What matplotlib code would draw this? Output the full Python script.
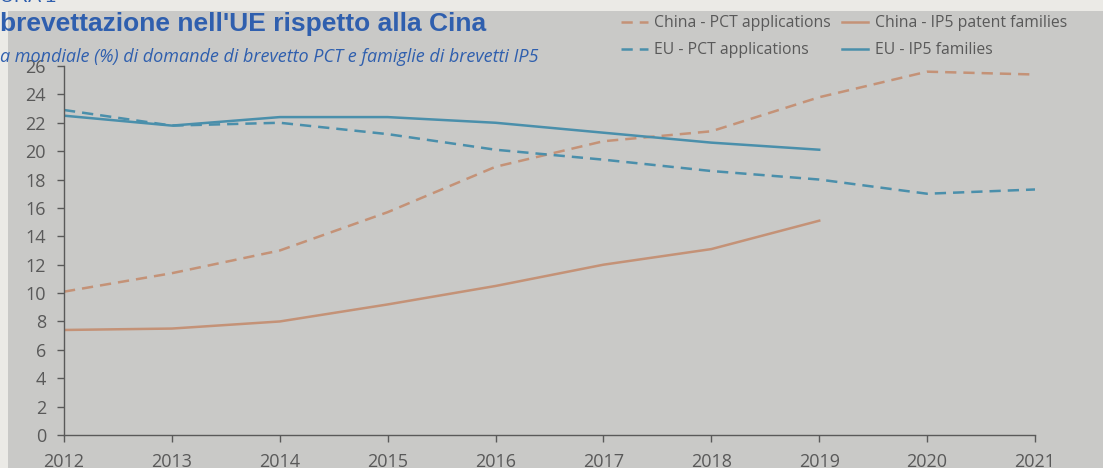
import matplotlib.pyplot as plt
from matplotlib.patches import Rectangle

anni = [2012, 2013, 2014, 2015, 2016, 2017, 2018, 2019, 2020, 2021]
anni_ip5 = anni[:8]

cina_pct = [10.1, 11.4, 13.0, 15.7, 18.9, 20.7, 21.4, 23.8, 25.6, 25.4]
cina_ip5 = [7.4, 7.5, 8.0, 9.2, 10.5, 12.0, 13.1, 15.1]
ue_pct = [22.9, 21.8, 22.0, 21.2, 20.1, 19.4, 18.6, 18.0, 17.0, 17.3]
ue_ip5 = [22.5, 21.8, 22.4, 22.4, 22.0, 21.3, 20.6, 20.1]

col_cina = '#c49277'
col_ue = '#4a8fab'
grigio = '#595959'
blu_titolo = '#2f5fae'

plt.rcParams['font.family'] = ['Open Sans', 'DejaVu Sans']

fig = plt.figure(figsize=(11.03, 4.68), dpi=100, facecolor='#ebeae6')
# pannello grigio dietro al grafico
fig.patches.append(Rectangle((8 / 1103, 0), 1, 1 - 11 / 468, transform=fig.transFigure,
                             facecolor='#c9c9c7', edgecolor='none', zorder=-5))

ax = fig.add_axes([64 / 1103, 33 / 468, (1035 - 64) / 1103, (435 - 66) / 468])
ax.set_facecolor('none')
ax.set_zorder(2)

tratteggio = (4.5, 2.8)
ax.plot(anni, cina_pct, color=col_cina, lw=1.8, dashes=tratteggio, label='China - PCT applications')
ax.plot(anni, ue_pct, color=col_ue, lw=1.8, dashes=tratteggio, label='EU - PCT applications')
ax.plot(anni_ip5, cina_ip5, color=col_cina, lw=1.8, label='China - IP5 patent families')
ax.plot(anni_ip5, ue_ip5, color=col_ue, lw=1.8, label='EU - IP5 families')

ax.set_xlim(2012, 2021)
ax.set_ylim(0, 26)
ax.set_xticks(anni)
ax.set_yticks(range(0, 27, 2))
for s in ['top', 'right']:
    ax.spines[s].set_visible(False)
for s in ['left', 'bottom']:
    ax.spines[s].set_color(grigio)
    ax.spines[s].set_linewidth(1.0)
ax.tick_params(colors=grigio, labelcolor=grigio, labelsize=13, length=5, width=1.0, pad=8)

leg = fig.legend(loc='upper left', bbox_to_anchor=(607 / 1103, 1 - 1 / 468), ncol=2, frameon=False,
                 fontsize=11.3, handlelength=1.7, handletextpad=0.4, columnspacing=0.7,
                 labelspacing=0.7, labelcolor=grigio)
leg.set_zorder(3)

fig.text(0, 1 - 2 / 468, 'URA 1', color=blu_titolo, fontsize=14, family='Liberation Sans',
         va='baseline', ha='left')
fig.text(0, 1 - 24 / 468, "brevettazione nell'UE rispetto alla Cina", color=blu_titolo,
         fontsize=19, fontweight='bold', family='Liberation Sans', va='center', ha='left')
fig.text(0, 1 - 57 / 468, 'a mondiale (%) di domande di brevetto PCT e famiglie di brevetti IP5',
         color=blu_titolo, fontsize=13, style='italic', va='center', ha='left', zorder=4)

fig.savefig('out.png', dpi=100, facecolor=fig.get_facecolor())
